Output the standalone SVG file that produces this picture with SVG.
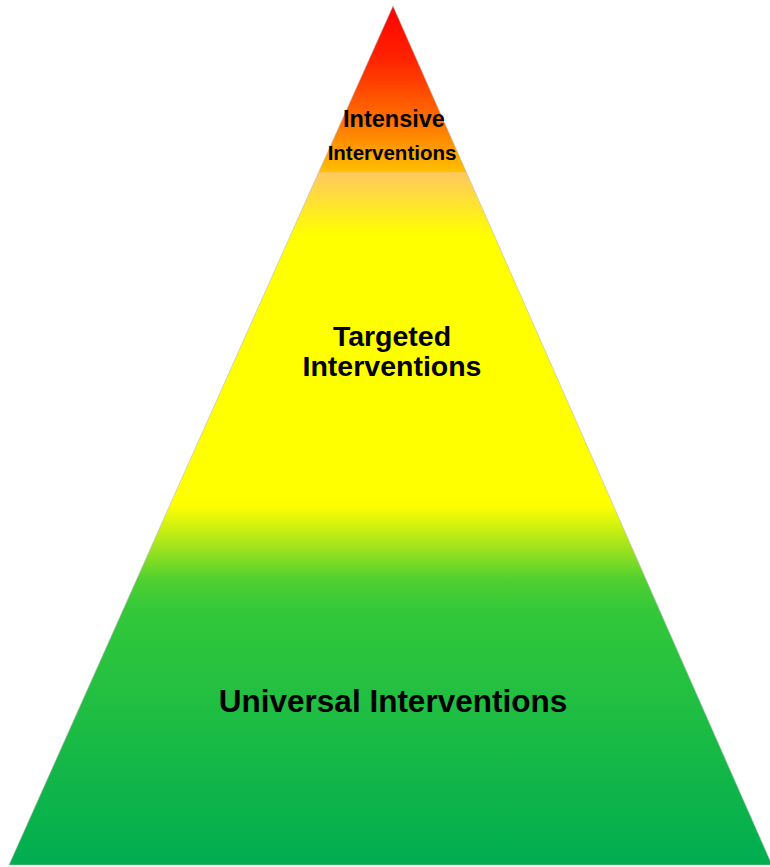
<svg xmlns="http://www.w3.org/2000/svg" width="770" height="867" viewBox="0 0 770 867">
  <defs>
    <linearGradient id="pyr" gradientUnits="userSpaceOnUse" x1="0" y1="6" x2="0" y2="865">
      <stop offset="0" stop-color="#ff0000"/>
      <stop offset="0.063" stop-color="#ff2400"/>
      <stop offset="0.133" stop-color="#ff7000"/>
      <stop offset="0.193" stop-color="#ffc000"/>
      <stop offset="0.194" stop-color="#ffc860"/>
      <stop offset="0.267" stop-color="#ffff00"/>
      <stop offset="0.581" stop-color="#ffff00"/>
      <stop offset="0.622" stop-color="#b0e818"/>
      <stop offset="0.668" stop-color="#50d030"/>
      <stop offset="0.703" stop-color="#33c83a"/>
      <stop offset="1" stop-color="#00ad50"/>
    </linearGradient>
    <style>
      .lbl { font-family: "Liberation Sans", Arial, sans-serif; font-weight: bold; fill: #000; text-anchor: middle; }
    </style>
  </defs>
  <g id="pyramid">
    <polygon points="393,6 9,865 772,865" fill="url(#pyr)" stroke="#b8b8b8" stroke-width="0.6"/>
  </g>
  <g id="intensive">
    <text class="lbl" x="394" y="127" font-size="23.5">Intensive</text>
    <text class="lbl" x="392" y="160" font-size="20.5">Interventions</text>
  </g>
  <g id="targeted">
    <text class="lbl" x="392" y="346" font-size="28.5">Targeted</text>
    <text class="lbl" x="392" y="376" font-size="28.5">Interventions</text>
  </g>
  <g id="universal">
    <text class="lbl" x="393" y="712" font-size="31.5">Universal Interventions</text>
  </g>
  <g id="connectors"></g>
</svg>
